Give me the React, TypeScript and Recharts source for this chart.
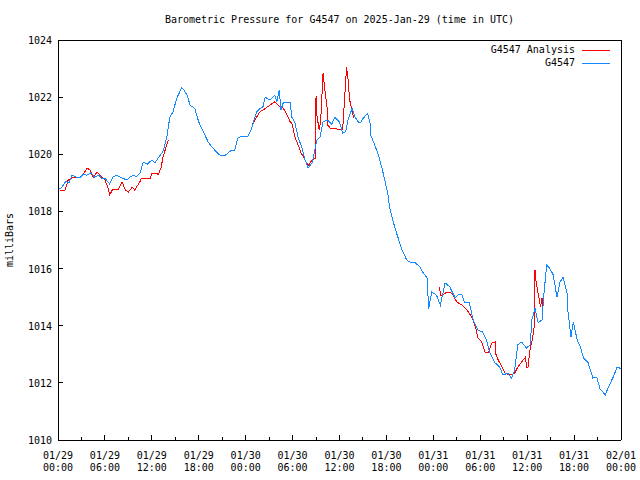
import React from 'react';
import { LineChart, Line, XAxis, YAxis } from 'recharts';

const FONT = '"DejaVu Sans Mono", "Liberation Mono", monospace';

// hours since 2025-01-29 00:00 UTC
const stationHours = [
  0, 0.5, 1.0, 1.4, 1.8, 2.3, 2.8, 3.2, 3.7, 4.2, 4.7, 5.2, 5.6, 6.0, 6.6, 7.0, 7.5, 8.2, 8.8, 9.2,
  9.6, 10.0, 10.5, 10.9, 11.4, 12.0, 12.4, 12.8, 13.4, 13.9, 14.3, 14.7, 15.2, 15.8, 16.1, 16.5, 16.9, 17.5, 18.0, 18.6,
  19.2, 19.8, 20.2, 20.7, 21.4, 22.2, 22.6, 23.0, 23.6, 24.3, 24.7, 25.0, 25.4, 25.8, 26.2, 26.5, 27.1, 27.7, 28.0, 28.3,
  28.5, 28.8, 29.3, 29.7, 29.9, 30.3, 30.7, 31.2, 31.6, 32.0, 32.5, 32.9, 33.1, 33.5, 33.9, 34.5, 35.0, 35.4, 36.0, 36.4,
  36.8, 37.1, 37.6, 38.0, 38.4, 38.7, 39.0, 39.6, 39.9, 40.0, 40.5, 40.9, 41.4, 41.8, 42.2, 42.4, 42.8, 43.3, 44.0, 44.6,
  45.0, 45.7, 46.3, 46.7, 47.2, 47.4, 47.8, 48.4, 48.9, 49.5, 50.1, 50.8, 51.2, 51.7, 52.0, 52.6, 53.1, 53.7, 54.3, 54.8,
  55.2, 55.9, 56.5, 56.9, 57.5, 58.0, 58.4, 58.8, 59.3, 59.9, 60.4, 60.6, 61.0, 61.4, 61.9, 62.1, 62.5, 62.9, 63.3, 63.6,
  63.8, 64.2, 64.6, 65.1, 65.2, 65.6, 65.9, 66.4, 66.8, 67.2, 67.8, 68.4, 68.9, 69.3, 70.0, 70.3, 71.0, 71.5, 72.0,
];
const stationValues = [
  1018.75, 1018.85, 1019.05, 1019.0, 1019.27, 1019.2, 1019.17, 1019.3, 1019.27, 1019.35, 1019.2, 1019.27, 1019.15, 1019.17, 1018.96, 1019.2, 1019.27, 1019.17, 1019.1, 1019.2,
  1019.27, 1019.22, 1019.34, 1019.73, 1019.65, 1019.8, 1019.7, 1019.87, 1020.08, 1020.57, 1021.3, 1021.48, 1021.97, 1022.32, 1022.25, 1022.07, 1021.72, 1021.6, 1021.13, 1020.78,
  1020.43, 1020.22, 1020.1, 1019.97, 1019.97, 1020.15, 1020.15, 1020.57, 1020.64, 1020.64, 1020.85, 1021.13, 1021.48, 1021.6, 1021.65, 1022.0, 1021.9, 1022.07, 1021.85, 1022.25,
  1021.55, 1021.8, 1021.83, 1021.8, 1021.3, 1021.1, 1020.6, 1020.22, 1019.8, 1019.52, 1019.7, 1020.22, 1020.5, 1020.6, 1021.13, 1021.2, 1021.05, 1021.3, 1021.13, 1020.74,
  1020.8, 1021.2, 1021.6, 1021.3, 1021.13, 1021.1, 1021.25, 1021.44, 1021.1, 1020.67, 1020.32, 1020.04, 1019.55, 1019.1, 1018.57, 1018.15, 1017.7, 1017.24, 1016.65, 1016.3,
  1016.23, 1016.2, 1016.06, 1015.85, 1015.67, 1014.6, 1015.18, 1015.07, 1014.72, 1015.5, 1015.36, 1014.97, 1015.1, 1015.07, 1014.8, 1014.8, 1014.2, 1013.85, 1013.78, 1013.5,
  1013.08, 1012.7, 1012.55, 1012.27, 1012.34, 1012.17, 1012.45, 1013.33, 1013.43, 1013.22, 1013.33, 1014.2, 1014.62, 1014.1, 1014.2, 1015.0, 1016.12, 1016.0, 1015.8, 1015.36,
  1015.0, 1015.53, 1015.7, 1015.14, 1014.55, 1013.6, 1014.13, 1013.5, 1013.26, 1012.87, 1012.7, 1012.17, 1012.2, 1011.8, 1011.57, 1011.8, 1012.2, 1012.55, 1012.5,
];

// null = no analysis for that stretch
const analysisHours = [
  0.3, 0.9, 1.3, 1.9, 2.6, 3.2, 3.7, 4.1, 4.5, 5.0, 5.6, 6.0, 6.4, 6.6, 7.0, 7.7, 8.2, 8.6, 9.0, 9.5,
  9.8, 10.4, 10.7, 11.8, 12.0, 12.7, 12.8, 13.2, 13.4, 13.9, 14.1, 19.0,
  24.8, 25.2, 25.8, 26.5, 27.1, 27.7, 28.4, 28.8, 29.3, 29.7, 29.9, 30.3, 30.7, 31.1, 31.6, 32.0, 32.5, 32.9,
  33.0, 33.1, 33.4, 33.6, 33.9, 34.1, 34.4, 34.5, 34.8, 35.8, 36.4, 36.9, 37.1, 37.3, 37.6, 37.8, 43.0,
  48.8, 48.9, 49.2, 49.7, 50.1, 50.5, 51.0, 51.7, 52.3, 53.0, 53.4, 53.7, 54.2, 54.6, 55.0, 55.5, 55.9, 56.0,
  56.3, 56.8, 57.2, 57.8, 58.4, 58.8, 59.5, 59.8, 59.9, 60.1, 60.4, 60.7, 60.9, 61.0, 61.1, 61.4, 61.7, 61.9, 62.0,
];
const analysisValues = [
  1018.75, 1018.75, 1019.1, 1019.2, 1019.17, 1019.27, 1019.52, 1019.45, 1019.2, 1019.38, 1019.2, 1019.1, 1018.82, 1018.57, 1018.78, 1018.78, 1019.03, 1018.75, 1018.68, 1018.85,
  1018.75, 1019.0, 1019.17, 1019.17, 1019.34, 1019.34, 1019.27, 1019.55, 1019.87, 1020.33, 1020.5, null,
  1021.02, 1021.2, 1021.48, 1021.6, 1021.72, 1021.83, 1021.66, 1021.62, 1021.38, 1021.13, 1021.1, 1020.6, 1020.33, 1020.04, 1019.8, 1019.6, 1019.8, 1019.85,
  1022.05, 1021.38, 1020.85, 1021.2, 1022.85, 1022.32, 1021.66, 1021.02, 1020.92, 1020.88, 1020.85, 1023.05, 1022.6, 1021.9, 1021.55, 1021.27, null,
  1015.36, 1015.07, 1015.07, 1015.18, 1015.18, 1015.07, 1014.83, 1014.72, 1014.55, 1014.27, 1013.95, 1013.57, 1013.43, 1013.08, 1013.04, 1013.4, 1013.43, 1013.0,
  1012.8, 1012.55, 1012.34, 1012.27, 1012.34, 1012.55, 1012.8, 1012.9, 1012.55, 1012.55, 1013.22, 1013.57, 1013.95, 1015.95, 1015.6, 1015.14, 1014.66, 1014.97, 1014.66,
];

const hourTicks = [0, 3, 6, 9, 12, 15, 18, 21, 24, 27, 30, 33, 36, 39, 42, 45, 48, 51, 54, 57, 60, 63, 66, 69, 72];
const tickDates = ['01/29', '01/29', '01/29', '01/29', '01/30', '01/30', '01/30', '01/30', '01/31', '01/31', '01/31', '01/31', '02/01'];
const tickTimes = ['00:00', '06:00', '12:00', '18:00', '00:00', '06:00', '12:00', '18:00', '00:00', '06:00', '12:00', '18:00', '00:00'];
const pressureTicks = [1010, 1012, 1014, 1016, 1018, 1020, 1022, 1024];

const stationData = stationHours.map((h, i) => ({ h, v: stationValues[i] }));
const analysisData = analysisHours.map((h, i) => ({ h, v: analysisValues[i] }));

const txt = { fontFamily: FONT, fontSize: 10, fill: '#000' };

function BottomTick(props: any) {
  const { x, y, payload } = props;
  const major = payload.value % 6 === 0;
  const i = payload.value / 6;
  return (
    <g>
      <line x1={x} x2={x} y1={y} y2={y - (major ? 5 : 3)} stroke="#000" />
      {major && <text x={x} y={y + 19} textAnchor="middle" {...txt}>{tickDates[i]}</text>}
      {major && <text x={x} y={y + 31} textAnchor="middle" {...txt}>{tickTimes[i]}</text>}
    </g>
  );
}

function TopTick(props: any) {
  const { x, y, payload } = props;
  const major = payload.value % 6 === 0;
  return <line x1={x} x2={x} y1={y} y2={y + (major ? 5 : 3)} stroke="#000" />;
}

function LeftTick(props: any) {
  const { x, y, payload } = props;
  return (
    <g>
      <line x1={x} x2={x + 5} y1={y} y2={y} stroke="#000" />
      <text x={x - 6} y={y + 4} textAnchor="end" {...txt}>{payload.value}</text>
    </g>
  );
}

function RightTick(props: any) {
  const { x, y } = props;
  return <line x1={x} x2={x - 5} y1={y} y2={y} stroke="#000" />;
}

export default function App() {
  return (
    <div style={{ position: 'absolute', left: 0, top: 0, width: 640, height: 480, background: '#fff' }}>
      <LineChart
        width={640}
        height={480}
        margin={{ top: 0, right: 0, bottom: 0, left: 0 }}
        style={{ shapeRendering: 'crispEdges' }}
      >
        <XAxis xAxisId="b" dataKey="h" type="number" domain={[0, 72]} ticks={hourTicks} interval={0}
          height={40} tickSize={0} tickMargin={0} tickLine={false} axisLine={{ stroke: '#000' }} tick={<BottomTick />} />
        <XAxis xAxisId="t" orientation="top" dataKey="h" type="number" domain={[0, 72]} ticks={hourTicks} interval={0}
          height={40} tickSize={0} tickMargin={0} tickLine={false} axisLine={{ stroke: '#000' }} tick={<TopTick />} />
        <YAxis yAxisId="l" type="number" domain={[1010, 1024]} ticks={pressureTicks} interval={0}
          width={58} tickSize={0} tickMargin={0} tickLine={false} axisLine={{ stroke: '#000' }} tick={<LeftTick />} />
        <YAxis yAxisId="r" orientation="right" type="number" domain={[1010, 1024]} ticks={pressureTicks} interval={0}
          width={19} tickSize={0} tickMargin={0} tickLine={false} axisLine={{ stroke: '#000' }} tick={<RightTick />} />
        <Line xAxisId="b" yAxisId="l" data={analysisData} dataKey="v" name="G4547 Analysis" type="linear"
          stroke="#ff0000" strokeWidth={1} dot={false} activeDot={false} isAnimationActive={false} />
        <Line xAxisId="b" yAxisId="l" data={stationData} dataKey="v" name="G4547" type="linear"
          stroke="#1488ff" strokeWidth={1} dot={false} activeDot={false} isAnimationActive={false} />
      </LineChart>

      <div style={{ position: 'absolute', left: 58, top: 14, width: 563, textAlign: 'center', fontFamily: FONT, fontSize: 10, lineHeight: '12px' }}>
        Barometric Pressure for G4547 on 2025-Jan-29 (time in UTC)
      </div>

      <div style={{ position: 'absolute', left: 4, top: 234, width: 12, height: 12 }}>
        <div style={{ position: 'absolute', left: -30, top: 0, width: 72, textAlign: 'center', transform: 'rotate(-90deg)', fontFamily: FONT, fontSize: 10, lineHeight: '12px' }}>
          milliBars
        </div>
      </div>

      {[{ label: 'G4547 Analysis', color: '#ff0000' }, { label: 'G4547', color: '#1488ff' }].map((item, i) => (
        <div key={item.label} style={{ position: 'absolute', right: 65, top: 44 + i * 13, fontFamily: FONT, fontSize: 10, lineHeight: '12px', textAlign: 'right' }}>
          {item.label}
        </div>
      ))}
      {['#ff0000', '#1488ff'].map((c, i) => (
        <div key={c} style={{ position: 'absolute', left: 582, top: 50 + i * 13, width: 28, height: 1, background: c }} />
      ))}
    </div>
  );
}
